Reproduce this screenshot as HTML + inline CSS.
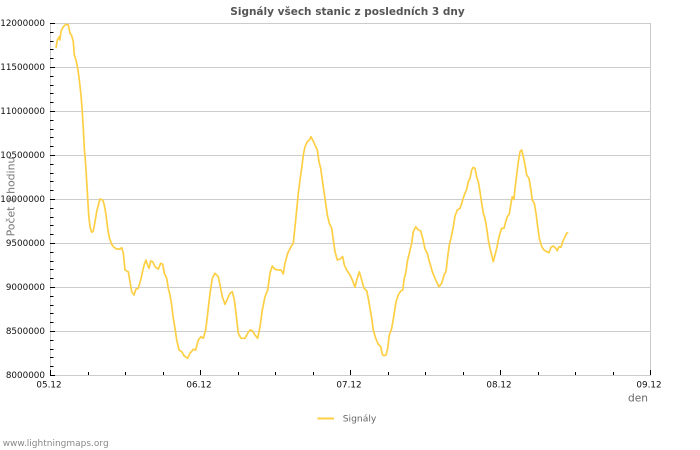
<!DOCTYPE html>
<html><head><meta charset="utf-8"><style>
html,body{margin:0;padding:0;background:#fff;}
svg{display:block;font-family:"DejaVu Sans","Liberation Sans",sans-serif;}
</style></head><body>
<svg width="700" height="450" viewBox="0 0 700 450" xmlns="http://www.w3.org/2000/svg">
<rect width="700" height="450" fill="#fff"/>
<text x="347.5" y="15" text-anchor="middle" font-size="10.5" font-weight="bold" fill="#555">Signály všech stanic z posledních 3 dny</text>
<g stroke="#cccccc" stroke-width="1" fill="none">
<line x1="50" y1="23.5" x2="650" y2="23.5"/>
<line x1="50" y1="67.5" x2="650" y2="67.5"/>
<line x1="50" y1="111.5" x2="650" y2="111.5"/>
<line x1="50" y1="155.5" x2="650" y2="155.5"/>
<line x1="50" y1="199.5" x2="650" y2="199.5"/>
<line x1="50" y1="243.5" x2="650" y2="243.5"/>
<line x1="50" y1="287.5" x2="650" y2="287.5"/>
<line x1="50" y1="331.5" x2="650" y2="331.5"/>
<line x1="50" y1="375.5" x2="650.5" y2="375.5"/>
<line x1="50.5" y1="23" x2="50.5" y2="376"/>
<line x1="650.5" y1="23" x2="650.5" y2="376"/>
</g>
<g stroke="#000" stroke-width="1" id="yt"></g>
<g stroke="#000" stroke-width="1" id="xt"></g>
<g font-size="8.8" fill="#111" text-anchor="end">
<text x="45" y="26.2">12000000</text>
<text x="45" y="70.2">11500000</text>
<text x="45" y="114.2">11000000</text>
<text x="45" y="158.2">10500000</text>
<text x="45" y="202.2">10000000</text>
<text x="45" y="246.2">9500000</text>
<text x="45" y="290.2">9000000</text>
<text x="45" y="334.2">8500000</text>
<text x="45" y="378.2">8000000</text>
</g>
<g font-size="8.8" fill="#111" text-anchor="middle">
<text x="49" y="387.5">05.12</text>
<text x="199" y="387.5">06.12</text>
<text x="349" y="387.5">07.12</text>
<text x="499" y="387.5">08.12</text>
<text x="649" y="387.5">09.12</text>
</g>
<text x="638" y="401.5" text-anchor="middle" font-size="10.6" fill="#666">den</text>
<text transform="translate(14.5,196.5) rotate(-90)" text-anchor="middle" font-size="10.9" fill="#777">Počet z hodinu</text>
<polyline fill="none" stroke="#fdcf45" stroke-width="1.7" stroke-linejoin="round" points="56,48.3 57.3,40 59.3,36.7 60,40 61,31 63.3,26.7 66,24.3 68.3,25 70,33.3 71.7,35.7 73.3,41.7 74.3,55 76,60 77.7,68.3 79.3,80 81,95 82.3,111.7 83.3,128.3 84.3,148.3 85.7,165 86.7,181.7 87.7,198.3 88.7,215 90,226.7 91.7,232.3 93.3,231 95,221.7 96.7,211.7 98.3,205 100,199 102.7,200 104.3,205 106,215 107.7,228.3 109.3,237.7 111.7,244.3 114,247.3 116.7,249 120,249 121.7,247.7 123.3,253.3 125,270 128.3,271.7 130,281.7 131.7,291.7 134,295 136,289 138.3,288.3 140.7,280 142.7,271 144.3,264.3 146,260 147.3,264.3 149,268.3 150.7,261 152.7,261.7 155,266.7 158.3,269 160.7,263.3 162.7,264.3 164.3,273.3 166.7,278.3 168.3,288.3 170,295 171.7,305 173.3,318.3 175,328.3 176.7,340 179,350 181.7,351.7 184.3,356 187.7,358.3 190,353.3 193.3,349.3 195.7,350 198.3,340 201,336.7 203.3,338.3 205.7,330 207.7,313.3 210,293.3 212.3,278.3 215,273.3 218.3,276.7 220,285 222.3,296.7 225,304.3 227.7,298.3 230,293.3 232.3,291.7 234.3,300 236,313.3 238.3,333.3 241,338.3 245,338.3 247.7,333.3 250,330 252.3,330.7 255,335 257.7,338.3 260,326.7 262.3,310 265,296.7 267.7,290 270,273.3 272.3,266 275,269.3 278.3,270 281,270 283.3,274 285,263.3 287.7,253.3 291,246.7 293.3,243.3 295,226.7 296.7,210 298.3,193.3 300,180 301.7,168.3 303.3,155 305,146.7 307.3,141.7 309.3,140 311,136.7 312.7,140 315,145 317.3,150 319,161.7 320.7,168.3 322.3,180 324,191.7 325.7,203.3 327.3,215 329.3,223.3 331.7,228.3 333.3,240 335,251.7 337.3,260 340,259 342.7,256.7 344.3,265 346.7,270 350,275 352.3,280 355,287.3 356.7,280 359.3,271.7 361.7,280 364,288.3 366.7,290.7 368.3,298.3 370,308.3 371.7,318.3 373.3,330 375.7,338.3 378.3,344.3 380.7,346.7 382.3,354.3 384,355.7 386,355 387.7,348.3 389.3,335 391.7,328.3 394,315 396,301.7 398.3,295 400.7,291 402.7,290 404.3,278.3 406,271.7 407.3,261.7 409.3,253.3 411.7,243.3 413.3,231.7 415.7,226.7 418.3,230 420.7,231 422.7,238.3 425,249 427.3,253.3 429.3,261.7 430,263.3 432.3,271.7 435,278.3 437.3,283.3 439,286.7 441.7,283.3 444,275 446,271.7 447.7,256.7 449.3,245 451,238.3 453.3,226.7 455,216 457.3,210 460,208.3 461.7,203.3 464.3,195 466.7,189.3 468.3,181.7 470,178.3 471.7,170 473.3,167.3 475,168.3 476.7,177.3 478.3,181.7 480,191.7 481.7,203.3 483.3,213.3 485,218.3 486.7,228.3 488.3,240 490,248.3 491.7,255 493.3,261.7 495,255 496.7,248.3 498.3,240 500,233.3 501.7,228.3 504,228.3 505.7,221.7 507.3,216.7 509.3,214 511,203.3 512.3,196.7 514,199.3 515,188.3 516.7,175 518.3,161.7 520,151.7 521.7,150 523.3,156.7 525,165 526.7,175 529,178.3 530.7,188.3 532.3,200 534.3,203.3 536,213.3 537.7,226.7 539.3,238.3 541.7,246.7 544,250 546.7,251.7 549,252.7 551,247.3 553.3,246 555.7,248.3 557.3,250.7 559,246.7 561,247.3 562.7,241.7 565,236.7 566.7,233.3 568.3,232.7"/>
<line x1="317.5" y1="418.5" x2="334" y2="418.5" stroke="#fdcf45" stroke-width="2"/>
<text x="342.7" y="421.5" font-size="9.2" fill="#666">Signály</text>
<text x="2.7" y="446" font-size="9" fill="#888">www.lightningmaps.org</text>
<script>
(function(){
var ns="http://www.w3.org/2000/svg";
var yt=document.getElementById("yt"),xt=document.getElementById("xt");
function ln(g,x1,y1,x2,y2){var l=document.createElementNS(ns,"line");l.setAttribute("x1",x1);l.setAttribute("y1",y1);l.setAttribute("x2",x2);l.setAttribute("y2",y2);g.appendChild(l);}
for(var i=0;i<=40;i++){var y=23+i*8.8;var yy=Math.round(y)+0.5;if(i%5==0){ln(yt,50,yy,55,yy);}else{ln(yt,50,yy,53.5,yy);}}
for(var k=0;k<=16;k++){var x=Math.round(50+37.5*k)+0.5;if(k%4==0){ln(xt,x,370,x,375);}else{ln(xt,x,372,x,375);}}
})();
</script>
</svg>
</body></html>
